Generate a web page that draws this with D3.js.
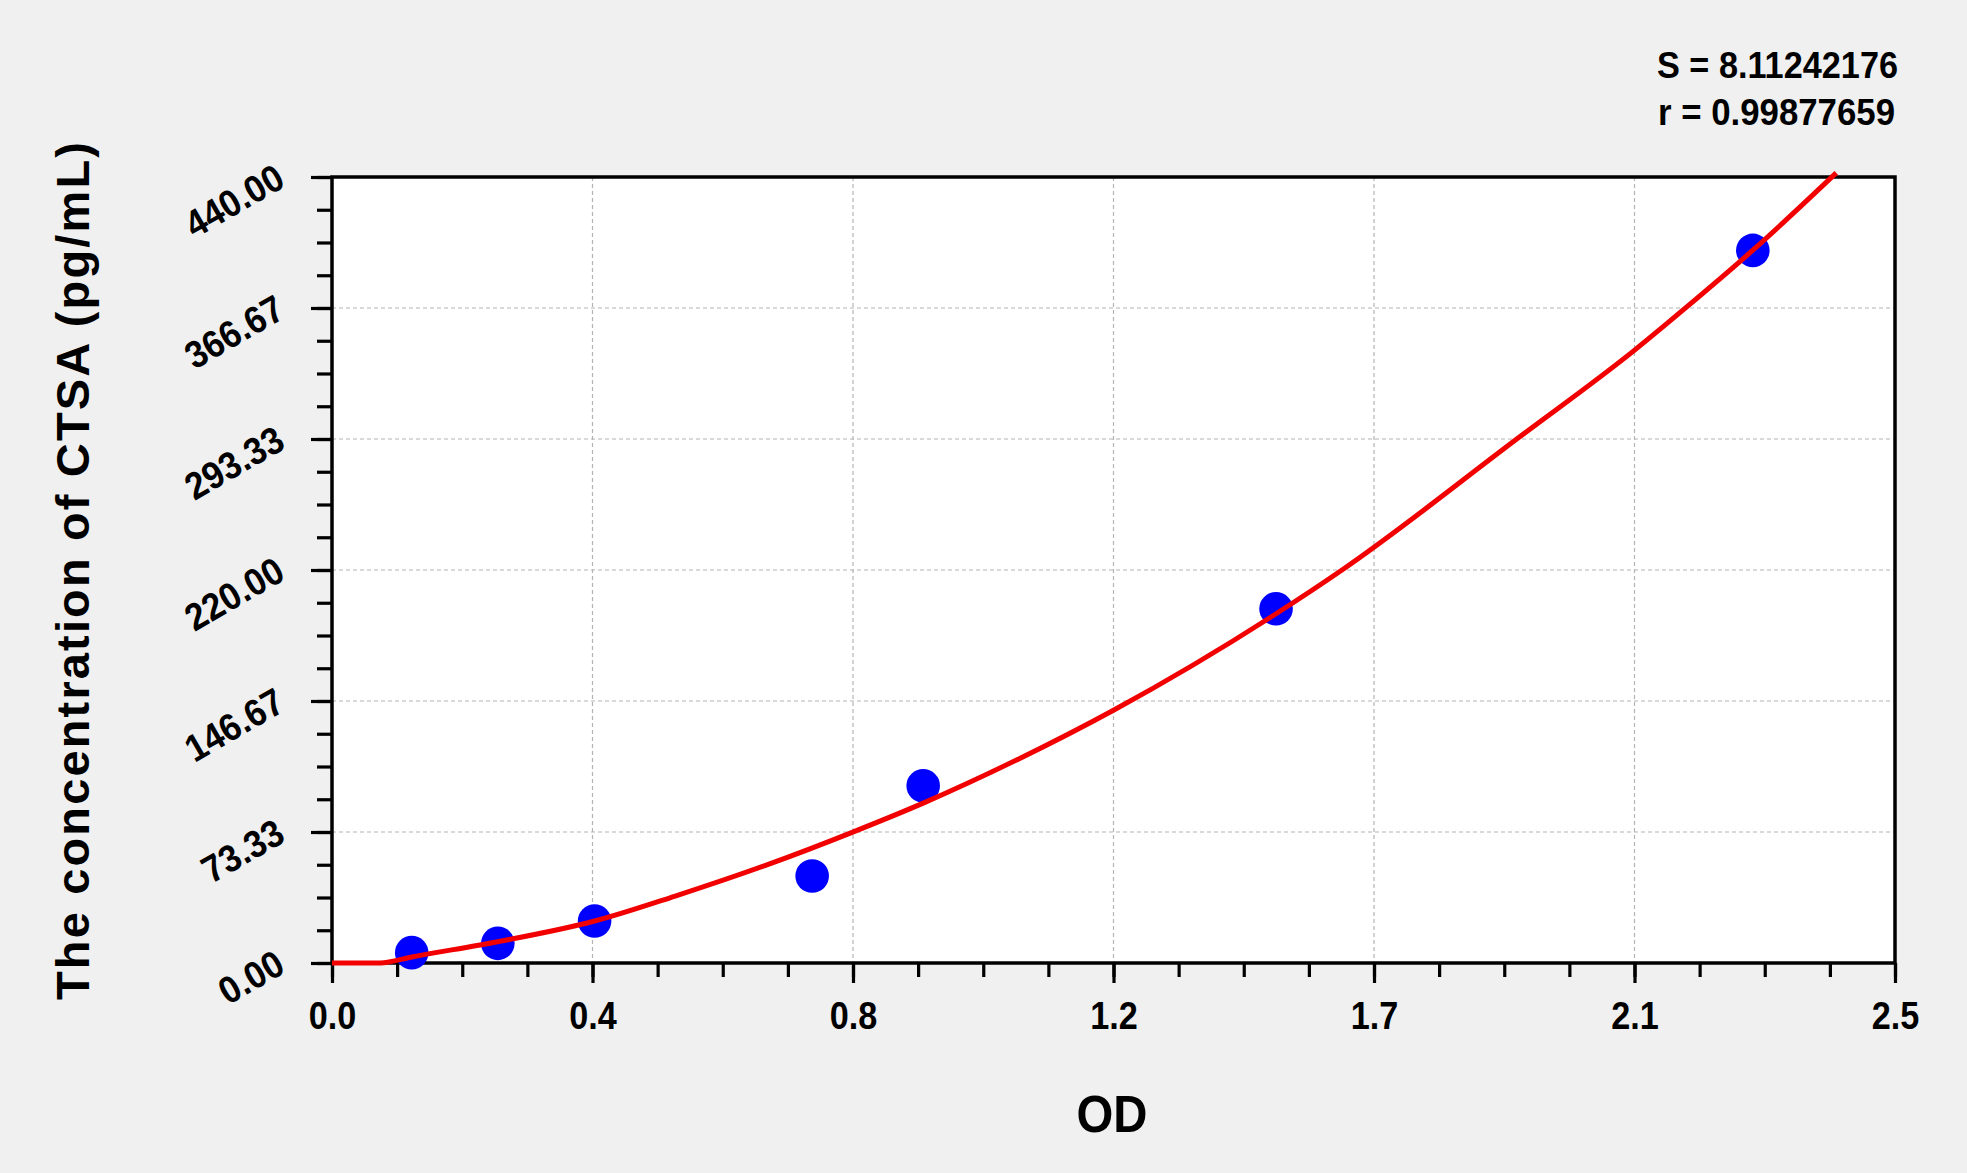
<!DOCTYPE html>
<html>
<head>
<meta charset="utf-8">
<script src="https://cdn.jsdelivr.net/npm/d3@7"></script>
<style>
html,body{margin:0;padding:0;background:#f0f0f0;overflow:hidden}
text{font-family:Arial,"Liberation Sans",Helvetica,sans-serif;font-weight:bold;fill:#000}
</style>
</head>
<body>
<svg id="chart" width="1967" height="1173"></svg>
<script>
// ---- data ----
const xTickValues = [0, 0.41667, 0.83333, 1.25, 1.66667, 2.08333, 2.5];
const xTickLabels = ["0.0", "0.4", "0.8", "1.2", "1.7", "2.1", "2.5"];
const yTickValues = [0, 73.33, 146.67, 220, 293.33, 366.67, 440];
const yTickLabels = ["0.00", "73.33", "146.67", "220.00", "293.33", "366.67", "440.00"];

const pointOD   = [0.1275, 0.2652, 0.420, 0.768, 0.9456, 1.510, 2.2726];
const pointConc = [5.8, 11.0, 23.5, 48.7, 99.2, 198.3, 398.9];

const curveOD   = [0, 0.077, 0.1275, 0.265, 0.42, 0.549, 0.7, 0.833, 0.9456, 1.10, 1.25, 1.51, 1.6155, 1.895, 2.085, 2.165, 2.2726, 2.406];
const curveConc = [0, 0, 3.4, 11.9, 23.5, 37.5, 55.5, 73.3, 89.5, 114.5, 141.5, 195.5, 220, 293.3, 343.5, 366.7, 399, 442.3];

const statLines = ["S = 8.11242176", "r = 0.99877659"];
const xTitle = "OD";
const yTitle = "The concentration of CTSA (pg/mL)";

// ---- layout ----
const W = 1967, H = 1173;
const L = 332, R = 1895, T = 177, B = 963;

const svg = d3.select("#chart");
svg.append("rect").attr("width", W).attr("height", H).attr("fill", "#f0f0f0");

const x = d3.scaleLinear().domain([0, 2.5]).range([L, R]);
const y = d3.scaleLinear().domain([0, 440]).range([B, T]);

function condense(sel, f) {
  sel.each(function () {
    const w = this.getComputedTextLength();
    d3.select(this).attr("textLength", w * f).attr("lengthAdjust", "spacingAndGlyphs");
  });
}

// plot background
svg.append("rect").attr("x", L).attr("y", T).attr("width", R - L).attr("height", B - T).attr("fill", "#fff");

// grid
const grid = svg.append("g").attr("stroke", "#b4b4b4").attr("stroke-width", 1.2).attr("stroke-dasharray", "4,3");
grid.selectAll("line.v").data(xTickValues.slice(1, -1)).join("line")
  .attr("x1", d => x(d)).attr("x2", d => x(d)).attr("y1", T).attr("y2", B);
grid.selectAll("line.h").data(yTickValues.slice(1, -1)).join("line")
  .attr("y1", d => y(d)).attr("y2", d => y(d)).attr("x1", L).attr("x2", R);

// minor ticks
const xMinor = d3.range(25).map(i => i * 2.5 / 24);
const yMinor = d3.range(25).map(i => i * 440 / 24);

const gxMinor = svg.append("g").attr("transform", `translate(0,${B})`)
  .call(d3.axisBottom(x).tickValues(xMinor).tickSize(14).tickFormat(""));
const gyMinor = svg.append("g").attr("transform", `translate(${L},0)`)
  .call(d3.axisLeft(y).tickValues(yMinor).tickSize(15).tickFormat(""));

// major ticks
const gx = svg.append("g").attr("transform", `translate(0,${B})`)
  .call(d3.axisBottom(x).tickValues(xTickValues).tickSize(20).tickFormat((d, i) => xTickLabels[i]));
const gy = svg.append("g").attr("transform", `translate(${L},0)`)
  .call(d3.axisLeft(y).tickValues(yTickValues).tickSize(21).tickFormat((d, i) => yTickLabels[i]));

[gxMinor, gyMinor, gx, gy].forEach(g => {
  g.select(".domain").remove();
  g.selectAll(".tick line").attr("stroke", "#000").attr("stroke-width", 3.2);
});

gx.selectAll(".tick text")
  .attr("y", 66).attr("dy", null)
  .attr("font-size", 38).attr("fill", "#000")
  .style("font-family", "Arial, 'Liberation Sans', sans-serif").style("font-weight", "bold");
condense(gx.selectAll(".tick text"), 0.9);

gy.selectAll(".tick text")
  .attr("x", null).attr("dy", null)
  .attr("text-anchor", "end")
  .attr("transform", "translate(-45,8) rotate(-30)")
  .attr("font-size", 38).attr("fill", "#000")
  .style("font-family", "Arial, 'Liberation Sans', sans-serif").style("font-weight", "bold");
condense(gy.selectAll(".tick text"), 0.92);

// border
svg.append("rect").attr("x", L).attr("y", T).attr("width", R - L).attr("height", B - T)
  .attr("fill", "none").attr("stroke", "#000").attr("stroke-width", 3.5);

// points
const pts = pointOD.map((d, i) => ({ od: d, c: pointConc[i] }));
svg.append("g").selectAll("circle").data(pts).join("circle")
  .attr("cx", d => x(d.od)).attr("cy", d => y(d.c)).attr("r", 16.8)
  .attr("fill", "#0000ff");

// fitted curve
const cpts = curveOD.map((d, i) => ({ od: d, c: curveConc[i] }));
const line = d3.line().x(d => x(d.od)).y(d => y(d.c)).curve(d3.curveMonotoneX);
svg.append("path").datum(cpts).attr("d", line)
  .attr("fill", "none").attr("stroke", "#f20000").attr("stroke-width", 5).attr("stroke-linejoin", "round");

// stats text
const st = svg.append("g");
st.append("text").attr("x", 1657).attr("y", 78).attr("font-size", 37).text(statLines[0])
  .attr("textLength", 241).attr("lengthAdjust", "spacingAndGlyphs");
st.append("text").attr("x", 1658).attr("y", 125).attr("font-size", 37).text(statLines[1])
  .attr("textLength", 237).attr("lengthAdjust", "spacingAndGlyphs");

// axis titles
svg.append("text").attr("x", 1112).attr("y", 1132).attr("text-anchor", "middle")
  .attr("font-size", 51).text(xTitle)
  .attr("textLength", 71).attr("lengthAdjust", "spacingAndGlyphs");

svg.append("text").attr("transform", "translate(89,571) rotate(-90)")
  .attr("text-anchor", "middle").attr("font-size", 47).text(yTitle)
  .attr("textLength", 858).attr("lengthAdjust", "spacing");
</script>
</body>
</html>
